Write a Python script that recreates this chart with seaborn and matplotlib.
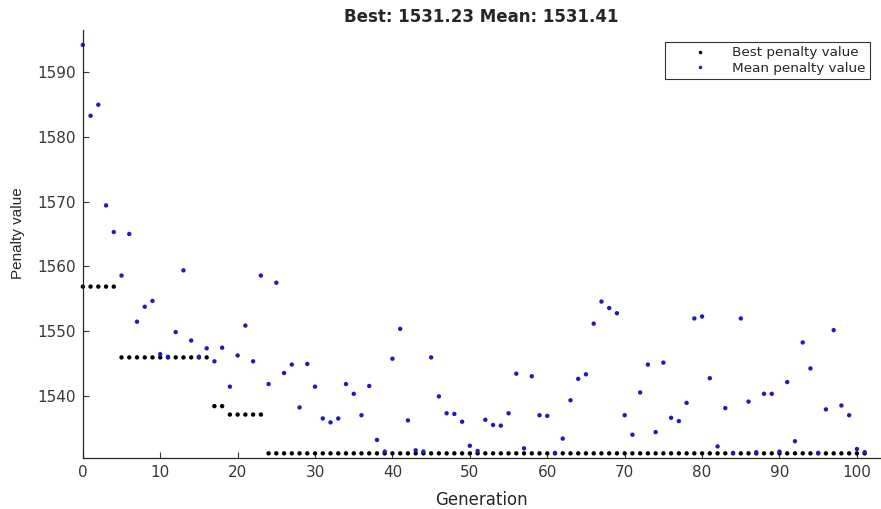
import numpy as np
import pandas as pd
import matplotlib
matplotlib.use("Agg")
import matplotlib.pyplot as plt
import seaborn as sns

# --- Data ---
best_penalty = [1556.9] * 5 + [1546.0] * 12 + [1538.5] * 2 + [1537.2] * 5 + [1531.23] * 78

mean_penalty = [
    1594.1, 1583.2, 1584.9, 1569.4, 1565.3, 1558.6, 1565.0, 1551.5, 1553.8, 1554.7,
    1546.5, 1546.1, 1549.9, 1559.4, 1548.6, 1546.1, 1547.4, 1545.4, 1547.5, 1541.5,
    1546.3, 1550.9, 1545.4, 1558.6, 1541.9, 1557.5, 1543.6, 1544.9, 1538.3, 1545.0,
    1541.5, 1536.6, 1536.0, 1536.6, 1541.9, 1540.4, 1537.1, 1541.6, 1533.3, 1531.5,
    1545.8, 1550.4, 1536.3, 1531.7, 1531.5, 1546.0, 1540.0, 1537.4, 1537.3, 1536.1,
    1532.4, 1531.6, 1536.4, 1535.6, 1535.5, 1537.4, 1543.5, 1532.0, 1543.1, 1537.1,
    1537.0, 1531.3, 1533.5, 1539.4, 1542.7, 1543.4, 1551.2, 1554.6, 1553.6, 1552.8,
    1537.1, 1534.1, 1540.6, 1544.9, 1534.5, 1545.2, 1536.7, 1536.2, 1539.0, 1552.0,
    1552.3, 1542.8, 1532.3, 1538.2, 1531.3, 1552.0, 1539.2, 1531.4, 1540.4, 1540.4,
    1531.5, 1542.2, 1533.1, 1548.3, 1544.3, 1531.3, 1538.0, 1550.2, 1538.6, 1537.1,
    1531.9, 1531.41,
]

generation = np.arange(len(mean_penalty))

df = pd.DataFrame({
    "Generation": np.concatenate([generation, generation]),
    "Penalty value": best_penalty + mean_penalty,
    "series": ["Best penalty value"] * len(best_penalty) + ["Mean penalty value"] * len(mean_penalty),
})

# --- Plot ---
sns.set_style("ticks")
plt.rcParams["font.family"] = ["DejaVu Sans"]

fig = plt.figure(figsize=(8.81, 5.09), dpi=100)
ax = fig.add_axes([0.094, 0.100, 0.905, 0.841])

sns.scatterplot(data=df, x="Generation", y="Penalty value", hue="series",
                palette={"Best penalty value": "black", "Mean penalty value": "#1c1cc0"},
                s=10, linewidth=0, ax=ax, clip_on=False)

ax.set_xlim(0, 103)
ax.set_ylim(1530.5, 1596.4)
ax.set_xticks(range(0, 101, 10))
ax.set_yticks(range(1540, 1591, 10))
ax.tick_params(direction="in", length=4, width=0.8, colors="#383838", labelsize=11, pad=5)
for s in ["top", "right"]:
    ax.spines[s].set_visible(False)
for s in ["left", "bottom"]:
    ax.spines[s].set_color("#262626")
    ax.spines[s].set_linewidth(0.9)

ax.set_xlabel("Generation", fontsize=12, color="#262626")
ax.xaxis.set_label_coords(0.5, -0.077)
ax.set_ylabel("Penalty value", fontsize=11, color="#262626", family="Liberation Sans")
ax.yaxis.set_label_coords(-0.072, 0.526)
ax.set_title("Best: 1531.23 Mean: 1531.41", fontsize=12, fontweight="bold", pad=6)

leg = ax.legend(loc="upper right", bbox_to_anchor=(0.987, 0.971), fontsize=9.7,
                frameon=True, fancybox=False, handlelength=4.6, handletextpad=0.1,
                borderpad=0.3, labelspacing=0.15, markerscale=0.8, borderaxespad=0)
leg.get_frame().set_edgecolor("black")
leg.get_frame().set_linewidth(0.8)

plt.savefig("out.png", dpi=100)
